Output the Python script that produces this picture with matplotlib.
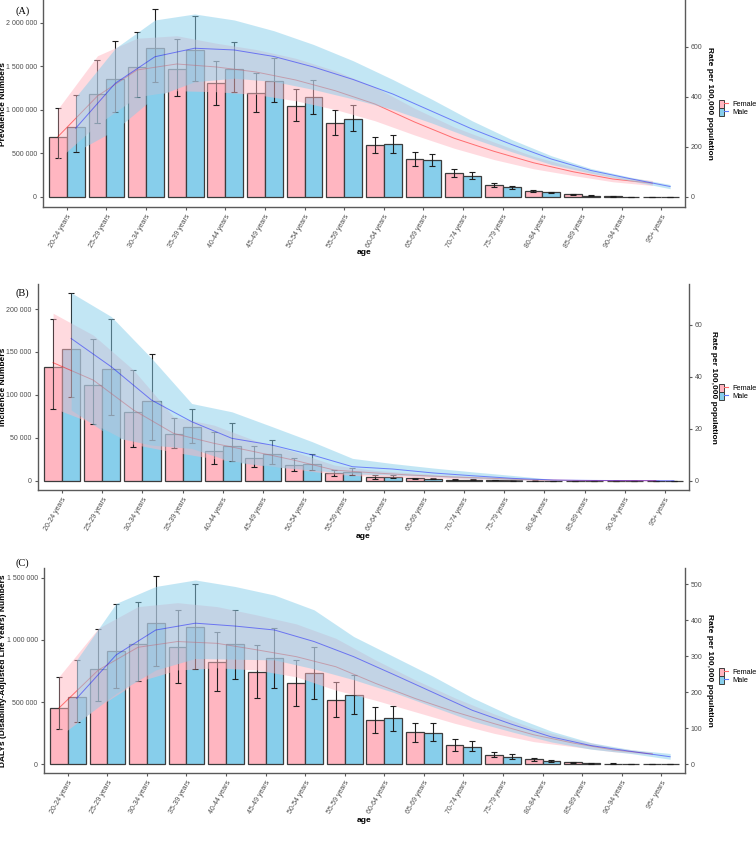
import matplotlib
matplotlib.use("Agg")
import matplotlib.lines
import matplotlib.legend_handler
import matplotlib.patches
import matplotlib.pyplot
import matplotlib.ticker
import numpy

ages = [
	"20-24 years", "25-29 years", "30-34 years", "35-39 years", "40-44 years", "45-49 years",
	"50-54 years", "55-59 years", "60-64 years", "65-69 years", "70-74 years", "75-79 years",
	"80-84 years", "85-89 years", "90-94 years", "95+ years",
]

# (A) prevalence numbers
prevalence_female = [686000, 1180000, 1494000, 1475000, 1307000, 1192000, 1050000, 847000, 594000, 433000, 272000, 138000, 73000, 31000, 8000, 2000]
prevalence_female_low = [444000, 847000, 1153000, 1161000, 1057000, 973000, 874000, 713000, 502000, 360000, 226000, 111000, 57000, 23000, 5000, 1000]
prevalence_female_high = [1019000, 1571000, 1893000, 1816000, 1567000, 1421000, 1238000, 996000, 694000, 513000, 318000, 165000, 84000, 38000, 11000, 3000]
prevalence_male = [801000, 1360000, 1709000, 1686000, 1475000, 1330000, 1146000, 893000, 605000, 421000, 245000, 111000, 54000, 15000, 4000, 1000]
prevalence_male_low = [521000, 973000, 1318000, 1333000, 1203000, 1088000, 950000, 755000, 506000, 360000, 207000, 96000, 42000, 12000, 3000, 500]
prevalence_male_high = [1169000, 1797000, 2157000, 2077000, 1782000, 1598000, 1349000, 1061000, 709000, 498000, 284000, 130000, 61000, 18000, 5000, 1500]
# (A) prevalence rate per 100,000
prevalence_rate_female = [241, 404, 508, 532, 520, 500, 468, 425, 372, 300, 235, 183, 137, 101, 72, 55]
prevalence_rate_female_low = [150, 290, 401, 425, 421, 410, 385, 350, 305, 248, 195, 150, 113, 86, 61, 46]
prevalence_rate_female_high = [352, 565, 635, 645, 615, 590, 555, 505, 440, 355, 280, 220, 163, 120, 84, 66]
prevalence_rate_male = [275, 455, 561, 595, 588, 562, 520, 470, 412, 342, 272, 210, 152, 106, 73, 42]
prevalence_rate_male_low = [181, 268, 401, 461, 475, 462, 430, 392, 350, 295, 235, 181, 130, 95, 65, 33]
prevalence_rate_male_high = [400, 595, 708, 732, 708, 665, 610, 545, 470, 390, 305, 230, 165, 114, 79, 50]

# (B) incidence numbers
incidence_female = [133000, 112000, 80000, 54000, 35000, 26000, 18000, 9300, 4200, 2600, 1200, 600, 200, 100, 50, 20]
incidence_female_low = [84000, 66000, 39000, 38000, 20000, 16000, 11000, 5800, 1600, 1800, 800, 400, 100, 50, 20, 10]
incidence_female_high = [189000, 165000, 129000, 73000, 57000, 40000, 26000, 13000, 6600, 3600, 1800, 900, 300, 150, 80, 30]
incidence_male = [154000, 130000, 93000, 63000, 41000, 31000, 20000, 10500, 4700, 2300, 1100, 400, 150, 60, 20, 10]
incidence_male_low = [98000, 77000, 47000, 44000, 23000, 19000, 13000, 6600, 2800, 1600, 700, 250, 100, 40, 10, 5]
incidence_male_high = [219000, 189000, 148000, 84000, 67000, 48000, 31000, 15000, 6600, 3200, 1600, 600, 250, 90, 30, 15]
# (B) incidence rate per 100,000
incidence_rate_female = [45.4, 38.7, 27.2, 18.2, 14.4, 11.2, 7.9, 4.1, 3.0, 2.1, 1.4, 0.9, 0.3, 0.1, 0.04, 0.02]
incidence_rate_female_low = [28.0, 22.0, 14.0, 11.0, 8.5, 6.5, 4.5, 2.5, 1.6, 1.2, 0.8, 0.5, 0.15, 0.05, 0.02, 0.01]
incidence_rate_female_high = [64.4, 56.0, 42.6, 24.6, 21.4, 15.6, 11.2, 6.0, 4.0, 2.9, 2.0, 1.3, 0.5, 0.15, 0.06, 0.03]
incidence_rate_male = [54.7, 43.8, 31.0, 22.7, 16.3, 13.7, 9.9, 5.4, 4.5, 3.0, 1.9, 0.9, 0.3, 0.12, 0.05, 0.02]
incidence_rate_male_low = [27.2, 17.0, 13.7, 12.4, 7.3, 5.4, 4.1, 2.6, 2.2, 1.6, 0.9, 0.4, 0.15, 0.06, 0.02, 0.01]
incidence_rate_male_high = [72.3, 63.1, 47.1, 29.7, 26.5, 20.8, 15.0, 8.6, 6.6, 4.9, 3.4, 2.0, 0.5, 0.2, 0.08, 0.03]

# (C) DALYs numbers
dalys_female = [450000, 766000, 964000, 940000, 825000, 745000, 651000, 520000, 356000, 257000, 155000, 78000, 40000, 16000, 5000, 1000]
dalys_female_low = [281000, 509000, 667000, 656000, 587000, 533000, 469000, 378000, 254000, 182000, 110000, 56000, 27000, 11000, 3000, 600]
dalys_female_high = [699000, 1085000, 1302000, 1243000, 1066000, 961000, 838000, 664000, 458000, 332000, 201000, 99000, 51000, 21000, 7000, 1500]
dalys_male = [538000, 911000, 1133000, 1101000, 964000, 857000, 731000, 557000, 370000, 254000, 142000, 62000, 27000, 8000, 2700, 500]
dalys_male_low = [340000, 611000, 790000, 766000, 683000, 611000, 522000, 407000, 270000, 185000, 104000, 43000, 19000, 5000, 1500, 300]
dalys_male_high = [841000, 1288000, 1510000, 1452000, 1237000, 1098000, 943000, 715000, 471000, 329000, 185000, 83000, 35000, 11000, 4000, 800]
# (C) DALYs rate per 100,000
dalys_rate_female = [156, 262, 325, 341, 336, 318, 299, 271, 225, 183, 146, 113, 82, 59, 40, 29]
dalys_rate_female_low = [77, 160, 230, 262, 268, 262, 243, 206, 178, 146, 114, 86, 63, 49, 35, 27]
dalys_rate_female_high = [243, 378, 438, 449, 438, 415, 390, 350, 290, 235, 185, 140, 100, 70, 47, 33]
dalys_rate_male = [183, 304, 373, 392, 384, 373, 341, 299, 250, 200, 150, 111, 76, 52, 36, 21]
dalys_rate_male_low = [114, 197, 262, 294, 292, 290, 265, 235, 200, 160, 120, 90, 62, 42, 30, 14]
dalys_rate_male_high = [290, 447, 494, 512, 494, 470, 429, 355, 300, 245, 185, 134, 92, 60, 41, 30]

class Main:
	def __init__(self):
		self.width = 756
		self.height = 843
		self.female_color = "#FFB6C1"
		self.male_color = "#87CEEB"
		self.edge_color = "#3C3C3C"
		self.axis_color = "#5A5A5A"
		self.tick_color = "#4D4D4D"
		self.sans = ["Liberation Sans", "DejaVu Sans"]
		self.serif = ["Liberation Serif", "DejaVu Serif"]
		self.figure = None
		self.panels = None

		self.initialize()
		self.visualize()

	def initialize(self):
		self.panels = [
			{
				"tag": "(A)", "ylabel": "Prevalence Numbers",
				"box": (43, 685, 0, 207), "ylim": (-115000, 2264000), "factor": 2873.5,
				"left_ticks": [0, 500000, 1000000, 1500000, 2000000], "right_ticks": [0, 200, 400, 600],
				"tag_y": 11, "age_y": 253, "legend_y": 108,
				"female": (prevalence_female, prevalence_female_low, prevalence_female_high),
				"male": (prevalence_male, prevalence_male_low, prevalence_male_high),
				"rate_female": (prevalence_rate_female, prevalence_rate_female_low, prevalence_rate_female_high),
				"rate_male": (prevalence_rate_male, prevalence_rate_male_low, prevalence_rate_male_high),
			},
			{
				"tag": "(B)", "ylabel": "Incidence Numbers",
				"box": (38, 689, 284, 490), "ylim": (-10800, 229200), "factor": 3030.0,
				"left_ticks": [0, 50000, 100000, 150000, 200000], "right_ticks": [0, 20, 40, 60],
				"tag_y": 293, "age_y": 537, "legend_y": 392,
				"female": (incidence_female, incidence_female_low, incidence_female_high),
				"male": (incidence_male, incidence_male_low, incidence_male_high),
				"rate_female": (incidence_rate_female, incidence_rate_female_low, incidence_rate_female_high),
				"rate_male": (incidence_rate_male, incidence_rate_male_low, incidence_rate_male_high),
			},
			{
				"tag": "(C)", "ylabel": "DALYs (Disability-Adjusted Life Years) Numbers",
				"box": (44, 685, 568, 773), "ylim": (-70000, 1578000), "factor": 2894.0,
				"left_ticks": [0, 500000, 1000000, 1500000], "right_ticks": [0, 100, 200, 300, 400, 500],
				"tag_y": 563, "age_y": 820, "legend_y": 676,
				"female": (dalys_female, dalys_female_low, dalys_female_high),
				"male": (dalys_male, dalys_male_low, dalys_male_high),
				"rate_female": (dalys_rate_female, dalys_rate_female_low, dalys_rate_female_high),
				"rate_male": (dalys_rate_male, dalys_rate_male_low, dalys_rate_male_high),
			},
		]

	def fx(self, px):
		return px / self.width

	def fy(self, py):
		return 1.0 - py / self.height

	def draw_panel(self, panel):
		left, right, top, bottom = panel["box"]
		axes = self.figure.add_axes([self.fx(left), self.fy(bottom), self.fx(right - left), (bottom - top) / self.height])
		x = numpy.arange(len(ages))
		dodge = 0.225
		factor = panel["factor"]

		female, female_low, female_high = [numpy.array(v, dtype = float) for v in panel["female"]]
		male, male_low, male_high = [numpy.array(v, dtype = float) for v in panel["male"]]

		axes.bar(x - dodge, female, width = 0.45, color = self.female_color, edgecolor = self.edge_color, linewidth = 0.9, zorder = 2)
		axes.bar(x + dodge, male, width = 0.45, color = self.male_color, edgecolor = self.edge_color, linewidth = 0.9, zorder = 2)
		axes.errorbar(x - dodge, female, yerr = [female - female_low, female_high - female], fmt = "none", ecolor = "#1E1E1E", elinewidth = 0.8, capsize = 2.4, capthick = 0.8, zorder = 3)
		axes.errorbar(x + dodge, male, yerr = [male - male_low, male_high - male], fmt = "none", ecolor = "#1E1E1E", elinewidth = 0.8, capsize = 2.4, capthick = 0.8, zorder = 3)

		rate_female, rate_female_low, rate_female_high = [numpy.array(v, dtype = float) * factor for v in panel["rate_female"]]
		rate_male, rate_male_low, rate_male_high = [numpy.array(v, dtype = float) * factor for v in panel["rate_male"]]
		axes.fill_between(x - dodge, rate_female_low, rate_female_high, color = self.female_color, alpha = 0.5, linewidth = 0, zorder = 4)
		axes.plot(x - dodge, rate_female, color = "red", alpha = 0.5, linewidth = 0.7, zorder = 5)
		axes.fill_between(x + dodge, rate_male_low, rate_male_high, color = self.male_color, alpha = 0.5, linewidth = 0, zorder = 6)
		axes.plot(x + dodge, rate_male, color = "blue", alpha = 0.45, linewidth = 0.7, zorder = 7)

		axes.set_xlim(-0.6, len(ages) - 0.4)
		axes.set_ylim(*panel["ylim"])
		axes.set_xticks(x)
		axes.set_xticklabels(ages, rotation = 60, ha = "right", rotation_mode = "anchor", fontsize = 5.0, color = self.tick_color, family = self.sans)
		axes.set_yticks(panel["left_ticks"])
		axes.yaxis.set_major_formatter(matplotlib.ticker.FuncFormatter(lambda v, p: "{:,}".format(int(v)).replace(",", " ")))
		for label in axes.get_yticklabels():
			label.set_family(self.sans)
		axes.tick_params(axis = "both", labelsize = 5.0, labelcolor = self.tick_color, color = self.axis_color, length = 2.5, width = 0.8, pad = 2)
		axes.spines["top"].set_visible(False)
		axes.spines["right"].set_visible(False)
		for side in ["left", "bottom"]:
			axes.spines[side].set_color(self.axis_color)
			axes.spines[side].set_linewidth(1.0)

		twin = axes.twinx()
		twin.set_ylim(panel["ylim"][0] / factor, panel["ylim"][1] / factor)
		twin.set_yticks(panel["right_ticks"])
		for side in ["left", "top", "bottom"]:
			twin.spines[side].set_visible(False)
		twin.spines["right"].set_color(self.axis_color)
		twin.spines["right"].set_linewidth(1.0)
		twin.tick_params(axis = "y", labelsize = 5.0, labelcolor = self.tick_color, color = self.axis_color, length = 2.5, width = 0.8, pad = 1.5)
		for label in twin.get_yticklabels():
			label.set_family(self.sans)

		middle = (top + bottom) / 2
		self.figure.text(self.fx(4), self.fy(middle), panel["ylabel"], rotation = 90, ha = "center", va = "center", fontsize = 6.0, fontweight = "bold", family = self.sans)
		self.figure.text(self.fx(right + 24), self.fy(middle), "Rate per 100,000 population", rotation = 270, ha = "center", va = "center", fontsize = 6.0, fontweight = "bold", family = self.sans)
		self.figure.text(self.fx((left + right) / 2), self.fy(panel["age_y"]), "age", ha = "center", va = "center", fontsize = 6.0, fontweight = "bold", family = self.sans)
		self.figure.text(self.fx(16), self.fy(panel["tag_y"]), panel["tag"], ha = "left", va = "center", fontsize = 7.5, family = self.serif)

		handles = [
			(matplotlib.patches.Patch(facecolor = self.female_color, edgecolor = self.edge_color, linewidth = 0.7),
			 matplotlib.lines.Line2D([], [], color = "#FF6B6B", linewidth = 0.8)),
			(matplotlib.patches.Patch(facecolor = self.male_color, edgecolor = self.edge_color, linewidth = 0.7),
			 matplotlib.lines.Line2D([], [], color = "#5B7BFF", linewidth = 0.8)),
		]
		legend = axes.legend(
			handles, ["Female", "Male"],
			handler_map = {tuple: matplotlib.legend_handler.HandlerTuple(ndivide = None, pad = 0)},
			loc = "center left", bbox_to_anchor = (self.fx(719), self.fy(panel["legend_y"])),
			bbox_transform = self.figure.transFigure, frameon = False,
			prop = {"family": self.sans, "size": 5.3},
			handlelength = 1.25, handleheight = 1.3, labelspacing = 0.0, handletextpad = 0.5,
			borderpad = 0.0, borderaxespad = 0.0,
		)
		legend.set_zorder(10)

	def visualize(self):
		self.figure = matplotlib.pyplot.figure(figsize = (self.width / 100, self.height / 100), dpi = 100)
		for panel in self.panels:
			self.draw_panel(panel)
		self.figure.savefig("out.png", dpi = 100)

if __name__ == "__main__":
	main = Main()
